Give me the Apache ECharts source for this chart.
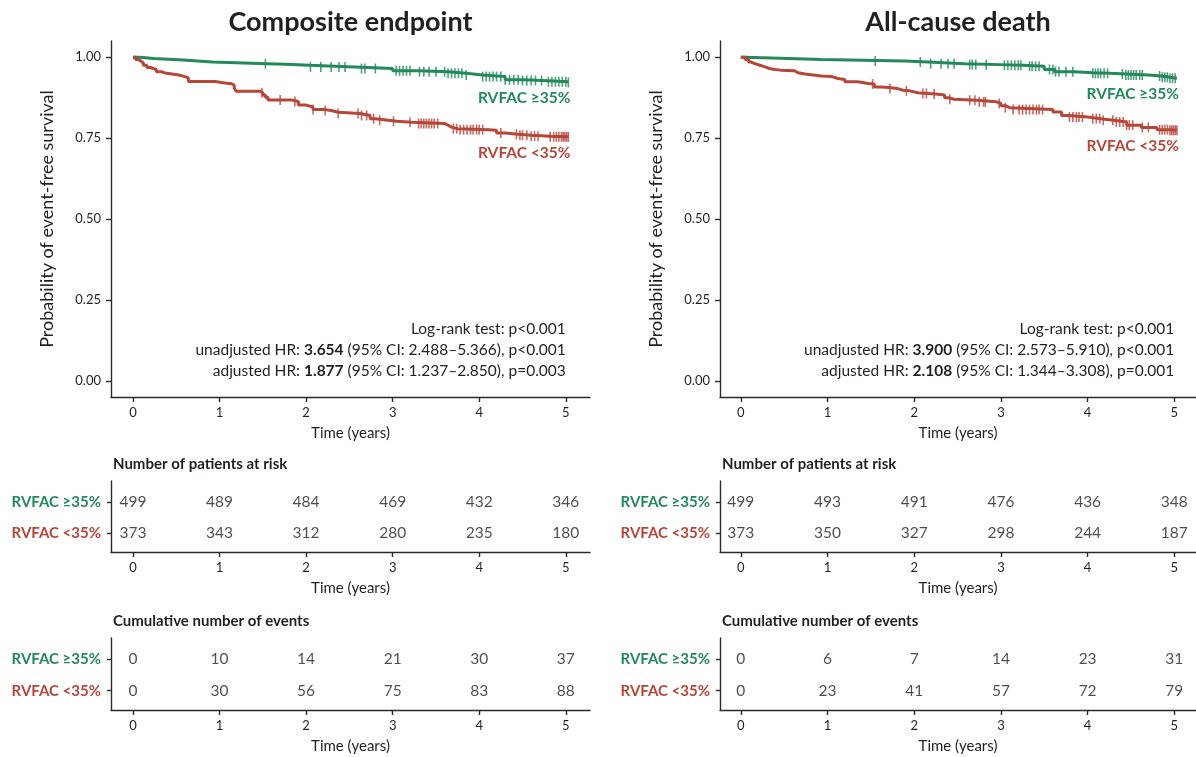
<!DOCTYPE html>
<html><head><meta charset="utf-8">
<script src="https://cdn.jsdelivr.net/npm/echarts@6/dist/echarts.min.js"></script>
<style>html,body{margin:0;padding:0;background:#fff}#c{width:1196px;height:757px}</style>
</head><body><div id="c"></div>
<script>
// ---------- DATA ----------
const xTicks = [0, 1, 2, 3, 4, 5];
const yTicks = [0, 0.25, 0.5, 0.75, 1];
const groups = ['RVFAC ≥35%', 'RVFAC <35%'];
const panelTitles = ['Composite endpoint', 'All-cause death'];

// Composite endpoint – RVFAC >=35%
const compHighT = [0, 0.08, 0.24, 0.58, 0.92, 1.55, 1.76, 2.04, 2.56, 3.0, 3.3, 3.64, 3.85, 4.04, 4.3, 4.5, 4.73, 5.03];
const compHighS = [1.0, 0.996, 0.991, 0.985, 0.98, 0.978, 0.975, 0.97, 0.965, 0.958, 0.955, 0.95, 0.945, 0.94, 0.93, 0.928, 0.924, 0.922];
const compHighCens = [1.53, 2.05, 2.17, 2.29, 2.38, 2.45, 2.64, 2.68, 2.8, 3.04, 3.08, 3.12, 3.16, 3.2, 3.31, 3.36, 3.42, 3.5, 3.6, 3.64, 3.68, 3.72, 3.76, 3.8, 3.85, 4.04, 4.08, 4.12, 4.16, 4.2, 4.25, 4.3, 4.35, 4.4, 4.45, 4.5, 4.55, 4.6, 4.65, 4.72, 4.8, 4.84, 4.88, 4.92, 4.96, 5.0, 5.03];
// Composite endpoint – RVFAC <35%
const compLowT = [0, 0.03, 0.06, 0.09, 0.12, 0.16, 0.2, 0.27, 0.33, 0.37, 0.53, 0.6, 0.64, 0.95, 1.06, 1.14, 1.17, 1.19, 1.47, 1.5, 1.53, 1.56, 1.83, 1.91, 2.0, 2.08, 2.22, 2.29, 2.37, 2.62, 2.74, 2.8, 2.95, 3.05, 3.22, 3.6, 3.64, 3.68, 3.75, 4.1, 4.2, 4.3, 4.45, 4.6, 4.82, 5.03];
const compLowS = [1.0, 0.993, 0.988, 0.982, 0.975, 0.968, 0.962, 0.955, 0.951, 0.945, 0.94, 0.936, 0.925, 0.92, 0.918, 0.913, 0.905, 0.895, 0.89, 0.883, 0.876, 0.868, 0.863, 0.852, 0.846, 0.838, 0.835, 0.83, 0.826, 0.82, 0.81, 0.805, 0.802, 0.799, 0.795, 0.79, 0.784, 0.779, 0.776, 0.774, 0.766, 0.762, 0.759, 0.756, 0.754, 0.754];
const compLowCens = [1.49, 1.70, 1.87, 2.08, 2.22, 2.37, 2.6, 2.64, 2.7, 2.78, 2.85, 3.01, 3.2, 3.3, 3.33, 3.36, 3.39, 3.42, 3.45, 3.48, 3.52, 3.7, 3.74, 3.78, 3.82, 3.86, 3.9, 3.93, 3.97, 4.0, 4.04, 4.25, 4.43, 4.47, 4.5, 4.55, 4.6, 4.64, 4.68, 4.82, 4.86, 4.89, 4.92, 4.95, 4.97, 4.99, 5.01, 5.03];

// All-cause death – RVFAC >=35%
const deathHighT = [0, 0.05, 0.55, 0.93, 1.89, 2.16, 2.58, 2.98, 3.25, 3.5, 3.62, 3.85, 4.06, 4.25, 4.44, 4.7, 4.85, 4.95, 5.03];
const deathHighS = [1.0, 0.996, 0.993, 0.988, 0.985, 0.98, 0.977, 0.975, 0.972, 0.962, 0.955, 0.952, 0.95, 0.948, 0.945, 0.942, 0.938, 0.935, 0.935];
const deathHighCens = [1.55, 2.07, 2.19, 2.31, 2.39, 2.46, 2.64, 2.67, 2.71, 2.83, 3.04, 3.08, 3.12, 3.16, 3.2, 3.23, 3.33, 3.36, 3.4, 3.44, 3.56, 3.6, 3.63, 3.67, 3.75, 3.83, 4.06, 4.09, 4.12, 4.15, 4.19, 4.23, 4.4, 4.44, 4.47, 4.5, 4.53, 4.56, 4.6, 4.63, 4.83, 4.86, 4.89, 4.92, 4.95, 4.98, 5.01];
// All-cause death – RVFAC <35%
const deathLowT = [0, 0.05, 0.09, 0.12, 0.16, 0.22, 0.28, 0.33, 0.39, 0.46, 0.62, 0.66, 0.74, 0.93, 1.05, 1.12, 1.2, 1.35, 1.47, 1.54, 1.62, 1.7, 1.81, 1.87, 1.95, 2.04, 2.15, 2.25, 2.35, 2.39, 2.46, 2.72, 2.95, 3.0, 3.05, 3.1, 3.6, 3.7, 3.78, 4.0, 4.15, 4.3, 4.45, 4.62, 4.8, 4.95, 5.03];
const deathLowS = [1.0, 0.993, 0.985, 0.98, 0.975, 0.97, 0.965, 0.962, 0.96, 0.958, 0.952, 0.948, 0.942, 0.94, 0.934, 0.931, 0.924, 0.919, 0.917, 0.908, 0.906, 0.903, 0.898, 0.896, 0.89, 0.888, 0.886, 0.883, 0.875, 0.87, 0.867, 0.862, 0.857, 0.85, 0.844, 0.838, 0.831, 0.82, 0.815, 0.81, 0.805, 0.8, 0.79, 0.783, 0.776, 0.774, 0.774];
const deathLowCens = [1.52, 1.72, 1.91, 2.1, 2.14, 2.23, 2.41, 2.64, 2.7, 2.75, 2.8, 2.82, 2.98, 3.05, 3.14, 3.21, 3.25, 3.29, 3.33, 3.37, 3.41, 3.44, 3.48, 3.79, 3.83, 3.87, 3.9, 3.94, 4.06, 4.1, 4.14, 4.18, 4.29, 4.33, 4.37, 4.41, 4.45, 4.48, 4.52, 4.63, 4.7, 4.83, 4.86, 4.89, 4.92, 4.95, 4.97, 4.99, 5.01, 5.03];

// Number at risk / cumulative events
const compRiskHigh = [499, 489, 484, 469, 432, 346];
const compRiskLow = [373, 343, 312, 280, 235, 180];
const compEventsHigh = [0, 10, 14, 21, 30, 37];
const compEventsLow = [0, 30, 56, 75, 83, 88];
const deathRiskHigh = [499, 493, 491, 476, 436, 348];
const deathRiskLow = [373, 350, 327, 298, 244, 187];
const deathEventsHigh = [0, 6, 7, 14, 23, 31];
const deathEventsLow = [0, 23, 41, 57, 72, 79];

// Statistics text
const compStats = ['Log-rank test: p<0.001', ['unadjusted HR: ', '3.654', ' (95% CI: 2.488–5.366), p<0.001'], ['adjusted HR: ', '1.877', ' (95% CI: 1.237–2.850), p=0.003']];
const deathStats = ['Log-rank test: p<0.001', ['unadjusted HR: ', '3.900', ' (95% CI: 2.573–5.910), p<0.001'], ['adjusted HR: ', '2.108', ' (95% CI: 1.344–3.308), p=0.001']];

// ---------- STYLE / LAYOUT ----------
const GREEN = '#23895a', RED = '#b5463a', INK = '#231f20', AX = '#2b2b2b';
const FONT = 'Lato, "Open Sans", sans-serif';
const PANELS = [
  { left: 111, width: 479, xMin: -0.254, xMax: 5.28 },
  { left: 720, width: 476, xMin: -0.24, xMax: 5.25 }
];
const MAIN = { top: 41, height: 356 };
const RISK = { top: 481, height: 71 };
const EVT = { top: 638, height: 72 };

const panelData = [
  { hi: [compHighT, compHighS, compHighCens], lo: [compLowT, compLowS, compLowCens],
    risk: [compRiskHigh, compRiskLow], evt: [compEventsHigh, compEventsLow], stats: compStats },
  { hi: [deathHighT, deathHighS, deathHighCens], lo: [deathLowT, deathLowS, deathLowCens],
    risk: [deathRiskHigh, deathRiskLow], evt: [deathEventsHigh, deathEventsLow], stats: deathStats }
];

function survAt(T, S, t) { let v = S[0]; for (let i = 0; i < T.length; i++) { if (T[i] <= t) v = S[i]; } return v; }

const grids = [], xAxes = [], yAxes = [], series = [], graphics = [], endLabels = [];
const axisLineStyle = { show: true, onZero: false, lineStyle: { color: AX, width: 1.4 } };
const tickStyle = { show: true, length: 5, lineStyle: { color: AX, width: 1.4 } };

function addX(gi, P, withName) {
  xAxes.push({
    type: 'value', gridIndex: gi, min: P.xMin, max: P.xMax,
    axisLine: axisLineStyle, splitLine: { show: false },
    axisTick: Object.assign({ customValues: xTicks }, tickStyle),
    axisLabel: { customValues: xTicks, margin: 9, fontSize: 13, color: INK, fontFamily: FONT },
    name: withName ? 'Time (years)' : '', nameLocation: 'middle', nameGap: 29,
    nameTextStyle: { fontSize: 15, color: INK, fontFamily: FONT }
  });
}
const rowRich = {
  g: { color: GREEN, fontWeight: 'bold', fontSize: 15, fontFamily: FONT },
  r: { color: RED, fontWeight: 'bold', fontSize: 15, fontFamily: FONT }
};
function addTableY(gi) {
  yAxes.push({
    type: 'value', gridIndex: gi, min: 0.33, max: 2.61, inverse: true,
    axisLine: axisLineStyle, splitLine: { show: false },
    axisTick: { show: true, customValues: [1, 2], length: 4, lineStyle: { color: AX, width: 1.4 } },
    axisLabel: { customValues: [1, 2], margin: 10, formatter: v => v < 1.5 ? '{g|' + groups[0] + '}' : '{r|' + groups[1] + '}', rich: rowRich }
  });
}

PANELS.forEach((P, p) => {
  const D = panelData[p];
  const base = grids.length;
  grids.push({ left: P.left, width: P.width, top: MAIN.top, height: MAIN.height });
  grids.push({ left: P.left, width: P.width, top: RISK.top, height: RISK.height });
  grids.push({ left: P.left, width: P.width, top: EVT.top, height: EVT.height });
  addX(base, P, true); addX(base + 1, P, true); addX(base + 2, P, true);
  yAxes.push({
    type: 'value', gridIndex: base, min: -0.05, max: 1.05,
    axisLine: axisLineStyle, splitLine: { show: false },
    axisTick: Object.assign({ customValues: yTicks }, tickStyle),
    axisLabel: { customValues: yTicks, margin: 10, fontSize: 13, color: INK, fontFamily: FONT, formatter: v => v.toFixed(2) },
    name: 'Probability of event-free survival', nameLocation: 'middle', nameGap: 55,
    nameTextStyle: { fontSize: 18, color: INK, fontFamily: FONT }
  });
  addTableY(base + 1); addTableY(base + 2);

  [[D.hi, GREEN, groups[0]], [D.lo, RED, groups[1]]].forEach(([c, col, name]) => {
    const [T, S, C] = c;
    series.push({ type: 'line', xAxisIndex: base, yAxisIndex: base, step: 'end', showSymbol: false, symbol: 'none',
      data: T.map((t, i) => [t, S[i]]), lineStyle: { color: col, width: 3 }, itemStyle: { color: col }, z: 3 });
    series.push({ type: 'scatter', xAxisIndex: base, yAxisIndex: base, symbol: 'rect', symbolSize: [1.6, 10],
      data: C.map(t => [t, survAt(T, S, t)]), itemStyle: { color: col }, z: 4 });
    endLabels.push({ grid: base, point: [T[T.length - 1], S[S.length - 1]], name: name, color: col });
  });
  [[D.risk, base + 1], [D.evt, base + 2]].forEach(([rows, gi]) => {
    rows.forEach((vals, r) => {
      series.push({ type: 'scatter', xAxisIndex: gi, yAxisIndex: gi, symbol: 'circle', symbolSize: 1,
        itemStyle: { color: 'transparent' }, data: xTicks.map((x, i) => [x, r + 1, vals[i]]),
        label: { show: true, position: 'inside', formatter: q => String(q.value[2]), color: INK, fontSize: 15.5, fontFamily: FONT } });
    });
  });

  // Titles & texts
  const cx = P.left + P.width / 2;
  graphics.push({ type: 'text', x: cx, y: 22, style: { text: panelTitles[p], fontSize: 27, fontWeight: 'bold', fill: INK, fontFamily: FONT, textAlign: 'center', textVerticalAlign: 'middle' } });
  graphics.push({ type: 'text', x: P.left + 2, y: 464, style: { text: 'Number of patients at risk', fontSize: 15, fontWeight: 'bold', fill: INK, fontFamily: FONT, textAlign: 'left', textVerticalAlign: 'middle' } });
  graphics.push({ type: 'text', x: P.left + 2, y: 621, style: { text: 'Cumulative number of events', fontSize: 15, fontWeight: 'bold', fill: INK, fontFamily: FONT, textAlign: 'left', textVerticalAlign: 'middle' } });
  const x5 = P.left + (5 - P.xMin) / (P.xMax - P.xMin) * P.width;
  const ys = [329, 350, 371];
  D.stats.forEach((ln, i) => {
    const txt = Array.isArray(ln) ? ln[0] + '{b|' + ln[1] + '}' + ln[2] : ln;
    graphics.push({ type: 'text', x: x5, y: ys[i], style: { text: txt, fontSize: 15.5, fill: INK, fontFamily: FONT, textAlign: 'right', textVerticalAlign: 'middle',
      rich: { b: { fontWeight: 'bold', fontSize: 15.5, fill: INK, fontFamily: FONT } } } });
  });
});

const chart = echarts.init(document.getElementById('c'), null, { renderer: 'canvas' });
chart.setOption({
  animation: false, backgroundColor: '#fff',
  textStyle: { fontFamily: FONT },
  grid: grids, xAxis: xAxes, yAxis: yAxes, series: series
});
// curve-end group labels, anchored to each curve's last point through the axis scales
endLabels.forEach(L => {
  const px = chart.convertToPixel({ gridIndex: L.grid }, L.point);
  graphics.push({ type: 'text', x: px[0] + 2, y: px[1] + 16, style: { text: L.name, fontSize: 15.5, fontWeight: 'bold', fill: L.color, fontFamily: FONT, textAlign: 'right', textVerticalAlign: 'middle' } });
});
chart.setOption({ graphic: graphics });
</script></body></html>
